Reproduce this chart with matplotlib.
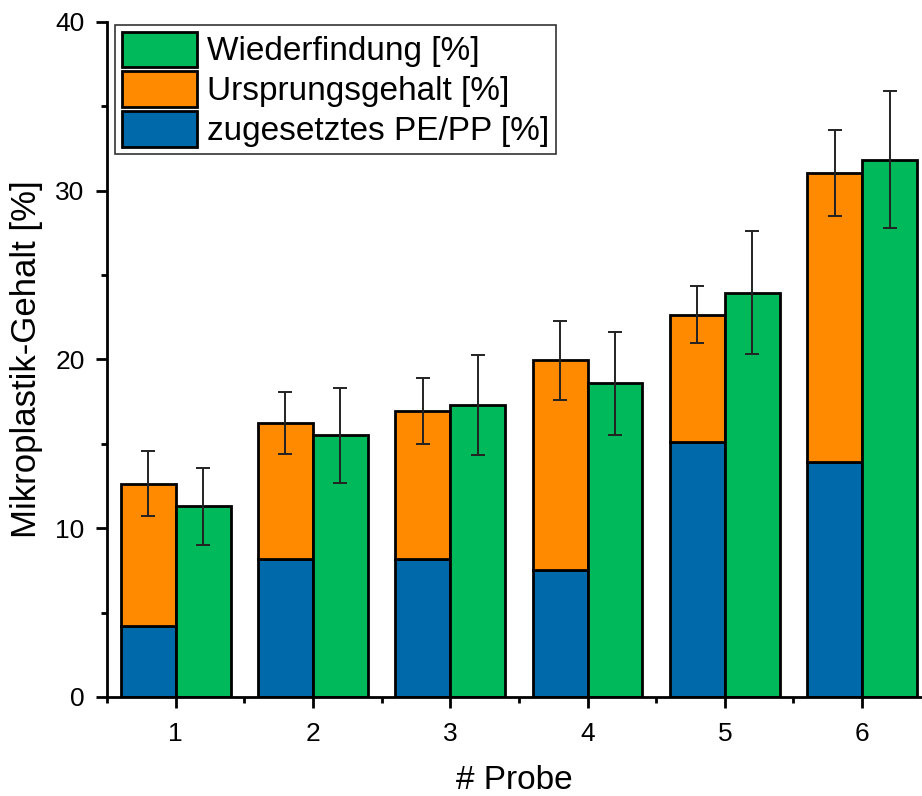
import numpy as np
import matplotlib.pyplot as plt
from matplotlib.ticker import MultipleLocator

plt.rcParams['font.family'] = ['Liberation Sans', 'DejaVu Sans']

# Daten
proben = [1, 2, 3, 4, 5, 6]
zugesetzt = [4.2, 8.15, 8.2, 7.5, 15.1, 13.95]
gesamt = [12.65, 16.25, 16.95, 19.95, 22.65, 31.05]
gesamt_err = [1.93, 1.84, 1.95, 2.35, 1.7, 2.52]
wiederfindung = [11.3, 15.5, 17.3, 18.6, 23.95, 31.85]
wiederfindung_err = [2.27, 2.8, 2.95, 3.05, 3.65, 4.05]

ursprung = [g - z for g, z in zip(gesamt, zugesetzt)]

c_blau = '#0069AA'
c_orange = '#FF8A00'
c_gruen = '#00B95A'

fig = plt.figure(figsize=(9.22, 7.96), dpi=100)
ax = fig.add_axes([0.116, 0.1244, 0.884, 0.848])

x = np.array(proben)
w = 0.4
ax.bar(x - w / 2, zugesetzt, w, color=c_blau, edgecolor='black', linewidth=2,
       label='zugesetztes PE/PP [%]', zorder=2)
ax.bar(x - w / 2, ursprung, w, bottom=zugesetzt, color=c_orange, edgecolor='black',
       linewidth=2, label='Ursprungsgehalt [%]', zorder=2)
ax.bar(x + w / 2, wiederfindung, w, color=c_gruen, edgecolor='black', linewidth=2,
       label='Wiederfindung [%]', zorder=2)

ax.errorbar(x - w / 2, gesamt, yerr=gesamt_err, fmt='none', ecolor='#222222',
            elinewidth=1.4, capsize=4.8, capthick=1.4, zorder=3)
ax.errorbar(x + w / 2, wiederfindung, yerr=wiederfindung_err, fmt='none',
            ecolor='#222222', elinewidth=1.4, capsize=4.8, capthick=1.4, zorder=3)

ax.set_xlim(0.5, 6.436)
ax.set_ylim(0, 40)
ax.set_xticks(proben)
ax.xaxis.set_minor_locator(MultipleLocator(0.5))
ax.yaxis.set_major_locator(MultipleLocator(10))
ax.yaxis.set_minor_locator(MultipleLocator(5))
ax.tick_params(axis='both', which='major', length=8, width=2, labelsize=19, direction='out')
ax.tick_params(axis='both', which='minor', length=4.5, width=2, direction='out')
ax.tick_params(axis='x', pad=10)
ax.tick_params(axis='y', pad=8)

for s in ['top', 'right']:
    ax.spines[s].set_visible(False)
for s in ['left', 'bottom']:
    ax.spines[s].set_linewidth(2)

ax.set_xlabel('# Probe', fontsize=24, labelpad=14)
ax.set_ylabel('Mikroplastik-Gehalt [%]', fontsize=25, labelpad=9)

handles, labels = ax.get_legend_handles_labels()
leg = ax.legend(handles[::-1], labels[::-1], loc='upper left',
                bbox_to_anchor=(0.0098, 0.9956), fontsize=24, fancybox=False,
                framealpha=1, edgecolor='#333333',
                handlelength=2.25, handleheight=1.25, labelspacing=0.12,
                handletextpad=0.32, borderpad=0.2, borderaxespad=0)
leg.get_frame().set_linewidth(1.2)

fig.savefig('out.png', dpi=100)
